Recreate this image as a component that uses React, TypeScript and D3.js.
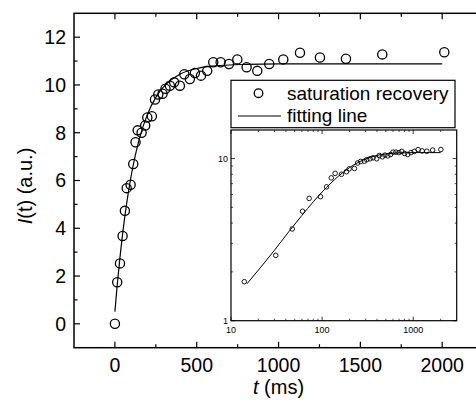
import React from "react";
import * as d3 from "d3";

// measured data: t (ms), I(t) (a.u.)
const tData = [0, 14, 31, 47, 61, 72, 96, 112, 126, 139, 163, 185, 198, 226, 245, 265, 291, 309, 336, 362, 397, 424, 458, 489, 526, 564, 601, 646, 697, 748, 805, 870, 943, 1029, 1131, 1253, 1412, 1634, 2013];
const iData = [0, 1.74, 2.53, 3.68, 4.73, 5.68, 5.82, 6.69, 7.6, 8.1, 8.0, 8.3, 8.64, 8.69, 9.39, 9.6, 9.63, 9.84, 9.97, 10.11, 9.97, 10.45, 10.25, 10.5, 10.39, 10.59, 10.95, 10.95, 10.88, 11.07, 10.74, 10.59, 10.88, 11.07, 11.35, 11.15, 11.1, 11.28, 11.37];

// fitting line
const fitT = [0, 15, 30, 45, 60, 80, 100, 125, 150, 200, 250, 300, 400, 500, 600, 800, 1000, 1500, 2000];
const fitI = [0.51, 1.69, 2.72, 3.65, 4.46, 5.41, 6.22, 7.06, 7.76, 8.79, 9.48, 9.94, 10.46, 10.69, 10.79, 10.86, 10.88, 10.88, 10.88];

const xMajor = [0, 500, 1000, 1500, 2000];
const xMinor = [250, 750, 1250, 1750, 2250];
const yMajor = [0, 2, 4, 6, 8, 10, 12];
const yMinor = [1, 3, 5, 7, 9, 11];

const inXMajor = [10, 100, 1000];
const inXMinor = [20, 30, 40, 50, 60, 70, 80, 90, 200, 300, 400, 500, 600, 700, 800, 900, 2000];
const inYMajor = [1, 10];
const inYMinor = [2, 3, 4, 5, 6, 7, 8, 9];

const FONT = "'Liberation Sans', Arial, sans-serif";

export default function App() {
  const L = 74, R = 524, T = 13.3, B = 347.7;
  const x = d3.scaleLinear().domain([-250, 2500]).range([L, R]);
  const y = d3.scaleLinear().domain([-1, 13]).range([B, T]);

  const iL = 231, iR = 456.7, iT = 130, iB = 320.7;
  const xi = d3.scaleLog().domain([10, 3000]).range([iL, iR]);
  const yi = d3.scaleLog().domain([1, 15]).range([iB, iT]);

  const pts = tData.map((t, k) => ({ t, v: iData[k] }));
  const fit = fitT.map((t, k) => ({ t, v: fitI[k] }));

  const line = d3.line<{ t: number; v: number }>().x(d => x(d.t)).y(d => y(d.v)).curve(d3.curveMonotoneX);
  const lineIn = d3.line<{ t: number; v: number }>().x(d => xi(d.t)).y(d => yi(d.v)).curve(d3.curveMonotoneX);

  const maj = 6, min = 3.5;
  const imaj = 4, imin = 2;

  return (
    <svg width={476} height={400} style={{ position: "absolute", left: 0, top: 0, background: "#fff" }} fontFamily={FONT}>
      <rect x={0} y={0} width={476} height={400} fill="#fff" />
      {/* main fit line */}
      <path d={line(fit) || ""} fill="none" stroke="#000" strokeWidth={1.2} />
      {/* main points */}
      {pts.map((p, k) => (
        <circle key={k} cx={x(p.t)} cy={y(p.v)} r={4.6} fill="none" stroke="#000" strokeWidth={1.3} />
      ))}
      {/* frame */}
      <rect x={L} y={T} width={R - L} height={B - T} fill="none" stroke="#000" strokeWidth={1.5} />
      {/* x ticks */}
      {xMajor.map(v => (
        <g key={"xm" + v}>
          <line x1={x(v)} x2={x(v)} y1={B} y2={B - maj} stroke="#000" strokeWidth={1.2} />
          <line x1={x(v)} x2={x(v)} y1={T} y2={T + maj} stroke="#000" strokeWidth={1.2} />
          <text x={x(v)} y={372} textAnchor="middle" fontSize={19.5}>{v}</text>
        </g>
      ))}
      {xMinor.map(v => (
        <g key={"xn" + v}>
          <line x1={x(v)} x2={x(v)} y1={B} y2={B - min} stroke="#000" strokeWidth={1.2} />
          <line x1={x(v)} x2={x(v)} y1={T} y2={T + min} stroke="#000" strokeWidth={1.2} />
        </g>
      ))}
      {yMajor.map(v => (
        <g key={"ym" + v}>
          <line x1={L} x2={L + maj} y1={y(v)} y2={y(v)} stroke="#000" strokeWidth={1.2} />
          <text x={L - 8} y={y(v) + 6.8} textAnchor="end" fontSize={19.5}>{v}</text>
        </g>
      ))}
      {yMinor.map(v => (
        <line key={"yn" + v} x1={L} x2={L + min} y1={y(v)} y2={y(v)} stroke="#000" strokeWidth={1.2} />
      ))}
      {/* axis titles */}
      <text x={278.5} y={394} textAnchor="middle" fontSize={20}>
        <tspan fontStyle="italic">t</tspan> (ms)
      </text>
      <text transform="translate(32,186) rotate(-90)" textAnchor="middle" fontSize={20}>
        <tspan fontStyle="italic">I</tspan>(t) (a.u.)
      </text>

      {/* legend */}
      <rect x={231} y={80.3} width={224} height={47.4} fill="#fff" stroke="#000" strokeWidth={1.2} />
      <circle cx={258.5} cy={93.2} r={4.3} fill="none" stroke="#000" strokeWidth={1.3} />
      <text x={287} y={100} fontSize={19}>saturation recovery</text>
      <line x1={238} x2={281} y1={116} y2={116} stroke="#000" strokeWidth={1.2} />
      <text x={287} y={121.5} fontSize={19}>fitting line</text>

      {/* inset */}
      <rect x={iL} y={iT} width={iR - iL} height={iB - iT} fill="#fff" />
      <path d={lineIn(fit.filter(d => d.t >= 15)) || ""} fill="none" stroke="#000" strokeWidth={1} />
      {pts.filter(p => p.t > 0).map((p, k) => (
        <circle key={"i" + k} cx={xi(p.t)} cy={yi(p.v)} r={2.3} fill="none" stroke="#000" strokeWidth={0.9} />
      ))}
      <rect x={iL} y={iT} width={iR - iL} height={iB - iT} fill="none" stroke="#000" strokeWidth={1.2} />
      {inXMajor.map(v => (
        <g key={"ixm" + v}>
          <line x1={xi(v)} x2={xi(v)} y1={iB} y2={iB - imaj} stroke="#000" strokeWidth={0.8} />
          <line x1={xi(v)} x2={xi(v)} y1={iT} y2={iT + imaj} stroke="#000" strokeWidth={0.8} />
          <text x={xi(v)} y={333} textAnchor="middle" fontSize={9}>{v}</text>
        </g>
      ))}
      {inXMinor.map(v => (
        <g key={"ixn" + v}>
          <line x1={xi(v)} x2={xi(v)} y1={iB} y2={iB - imin} stroke="#000" strokeWidth={0.7} />
          <line x1={xi(v)} x2={xi(v)} y1={iT} y2={iT + imin} stroke="#000" strokeWidth={0.7} />
        </g>
      ))}
      {inYMajor.map(v => (
        <g key={"iym" + v}>
          <line x1={iL} x2={iL + imaj} y1={yi(v)} y2={yi(v)} stroke="#000" strokeWidth={0.8} />
          <line x1={iR} x2={iR - imaj} y1={yi(v)} y2={yi(v)} stroke="#000" strokeWidth={0.8} />
          <text x={iL - 3} y={yi(v) + 3} textAnchor="end" fontSize={9}>{v}</text>
        </g>
      ))}
      {inYMinor.map(v => (
        <g key={"iyn" + v}>
          <line x1={iL} x2={iL + imin} y1={yi(v)} y2={yi(v)} stroke="#000" strokeWidth={0.7} />
          <line x1={iR} x2={iR - imin} y1={yi(v)} y2={yi(v)} stroke="#000" strokeWidth={0.7} />
        </g>
      ))}
    </svg>
  );
}
